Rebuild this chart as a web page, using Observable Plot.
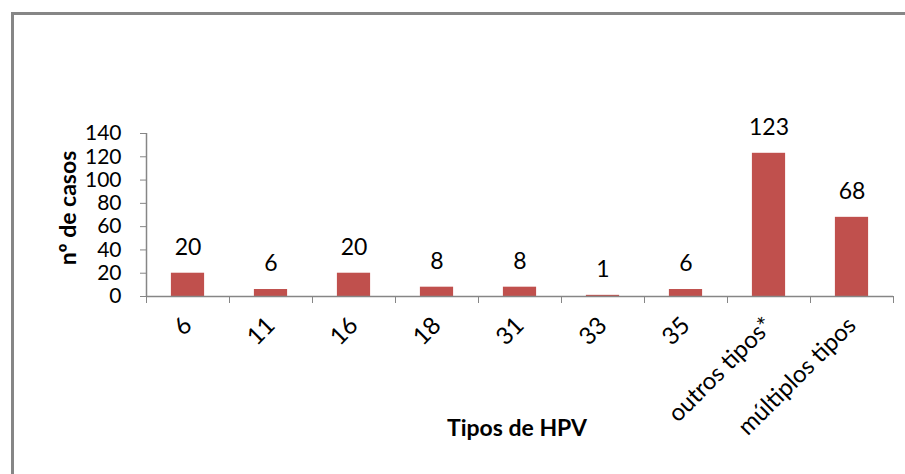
<!DOCTYPE html>
<html>
<head>
<meta charset="utf-8">
<script src="https://cdn.jsdelivr.net/npm/d3@7"></script>
<script src="https://cdn.jsdelivr.net/npm/@observablehq/plot@0.6"></script>
<style>
  html, body { margin: 0; padding: 0; background: #fff; overflow: hidden; }
  #wrap { position: relative; width: 905px; height: 474px; }
  #border { position: absolute; left: 11px; top: 12px; width: 1000px; height: 1000px;
            border: 3px solid #868686; box-sizing: border-box; pointer-events: none; }
  svg { font-family: Lato, "Open Sans", sans-serif; }
</style>
</head>
<body>
<div id="wrap"><div id="border"></div></div>
<script>
const categories = ["6", "11", "16", "18", "31", "33", "35", "outros tipos*", "múltiplos tipos"];
const values = [20, 6, 20, 8, 8, 1, 6, 123, 68];
const yTicks = [0, 20, 40, 60, 80, 100, 120, 140];
const yTitle = "nº de casos";
const xTitle = "Tipos de HPV";

const data = categories.map((c, i) => ({cat: c, idx: i, value: values[i]}));
const boundaries = d3.range(categories.length + 1);
const centers = categories.map((c, i) => i + 0.5);

const gray = "#868686";
const barColor = "#C0504D";

const chart = Plot.plot({
  width: 905,
  height: 474,
  marginLeft: 146,
  marginRight: 12,
  marginTop: 133,
  marginBottom: 178,
  style: {fontFamily: "Lato, 'Open Sans', sans-serif", fontSize: "21px", color: "#000", background: "transparent"},
  x: {type: "linear", domain: [0, categories.length]},
  y: {domain: [0, 140]},
  marks: [
    Plot.rectY(data, {x1: d => d.idx + 0.3, x2: d => d.idx + 0.7, y1: 0, y2: "value", fill: barColor}),
    Plot.ruleY([0], {stroke: gray, strokeWidth: 1.5}),
    Plot.ruleX([0], {y1: 0, y2: 140, stroke: gray, strokeWidth: 1.5}),
    Plot.axisY({ticks: yTicks, tickSize: 6, tickPadding: 19, stroke: gray, label: null, fontSize: 21}),
    Plot.axisX({ticks: boundaries, tickSize: 7, tickFormat: () => "", stroke: gray, label: null}),
    Plot.axisX({ticks: centers, tickSize: 0, tickPadding: 25, tickRotate: -45, tickFormat: d => categories[Math.floor(d)], label: null, fontSize: 24}),
    Plot.text(data, {x: d => d.idx + 0.5, y: "value", text: d => String(d.value), dy: -26, fontSize: 23, fill: "#000"}),
    Plot.text([yTitle], {frameAnchor: "left", textAnchor: "middle", rotate: -90, dx: -78, dy: -7, fontSize: 23, fontWeight: "bold", fill: "#000"}),
    Plot.text([xTitle], {frameAnchor: "bottom", dy: 139, dx: -3, fontSize: 23, fontWeight: "bold", fill: "#000"})
  ]
});
document.getElementById("wrap").prepend(chart);
</script>
</body>
</html>
